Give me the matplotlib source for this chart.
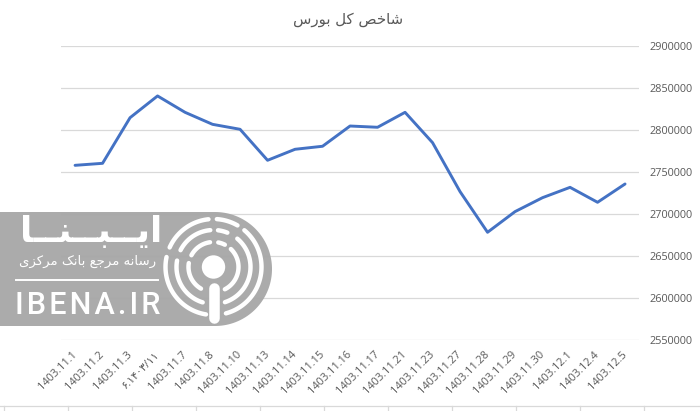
import numpy as np
import matplotlib
matplotlib.use('Agg')
import matplotlib.pyplot as plt

# Data
FECHAS = ['1403.11.1', '1403.11.2', '1403.11.3', '۶.۱۴۰۳/۱۱', '1403.11.7', '1403.11.8', '1403.11.10',
          '1403.11.13', '1403.11.14', '1403.11.15', '1403.11.16', '1403.11.17', '1403.11.21',
          '1403.11.23', '1403.11.27', '1403.11.28', '1403.11.29', '1403.11.30', '1403.12.1',
          '1403.12.4', '1403.12.5']
INDICE = [2758300, 2760700, 2815000, 2840900, 2821400, 2807100, 2801200, 2764300, 2777400, 2781000,
          2805100, 2803600, 2821400, 2785300, 2727000, 2678600, 2703200, 2719800, 2732100, 2714300,
          2736100]
Y_TICKS = [2550000, 2600000, 2650000, 2700000, 2750000, 2800000, 2850000, 2900000]

# Persian strings, already in contextual forms (matplotlib does not shape Arabic script)
TITULO = '\uFEB7\uFE8E\uFEA7\uFEBA \uFB90\uFEDE \uFE91\uFEEE\uFEAD\uFEB1'
LOGO_NOMBRE = '\uFE8D\uFBFE\u0640\u0640\uFE92\u0640\u0640\uFEE8\u0640\u0640\uFE8E'
LOGO_LEMA = '\uFEAD\uFEB3\uFE8E\uFEE7\uFEEA \uFEE3\uFEAE\uFE9F\uFECA \uFE91\uFE8E\uFEE7\uFB8F \uFEE3\uFEAE\uFB90\uFEB0\uFBFC'
LOGO_WEB = 'I\u200AB\u200AE\u200AN\u200AA\u200A.\u200AI\u200AR'

GRIS_TEXTO = '#595959'
GRIS_LINEA = '#d9d9d9'
GRIS_LOGO = '#a8a8a8'
ANCHO, ALTO = 700, 411


def rtl(texto):
    return texto[::-1]


def arco(ax, cx, cy, r, a1, a2, lw):
    t = np.radians(np.linspace(a1, a2, 60))
    ax.plot(cx + r * np.cos(t), cy - r * np.sin(t), color='white', lw=lw, solid_capstyle='round')


plt.rcParams['font.family'] = ['Open Sans', 'DejaVu Sans']

fig = plt.figure(figsize=(7, 4.11), dpi=100)
ax = fig.add_axes([61.3 / ANCHO, 1 - 340.3 / ALTO, 577.5 / ANCHO, 294 / ALTO])
x = np.arange(len(FECHAS))
ax.plot(x, INDICE, color='#4472c4', lw=2.1, solid_joinstyle='round', solid_capstyle='round', zorder=3)
ax.set_xlim(-0.5, 20.5)
ax.set_ylim(2550000, 2900000)
ax.set_yticks(Y_TICKS)
ax.set_yticklabels([str(v) for v in Y_TICKS])
ax.yaxis.tick_right()
ax.grid(True, axis='y', color=GRIS_LINEA, lw=0.9)
ax.set_xticks(x)
ax.set_xticklabels(FECHAS, rotation=45, ha='right', va='center', rotation_mode='anchor')
ax.tick_params(axis='x', length=0, pad=9, labelsize=7.9, labelcolor=GRIS_TEXTO)
ax.tick_params(axis='y', length=0, pad=7.5, labelsize=7.8, labelcolor=GRIS_TEXTO)
for s in ax.spines.values():
    s.set_visible(False)

# Overlay in pixel coordinates: title, bottom strip and logo
capa = fig.add_axes([0, 0, 1, 1], facecolor='none')
capa.set_xlim(0, ANCHO)
capa.set_ylim(ALTO, 0)
capa.axis('off')

capa.text(348, 19.5, rtl(TITULO), ha='center', va='center', fontsize=10.8, color=GRIS_TEXTO,
          family='DejaVu Sans')

capa.plot([0, ANCHO], [406.3, 406.3], color=GRIS_LINEA, lw=0.9)
for xt in np.arange(4.3, ANCHO, 64):
    capa.plot([xt, xt], [406.3, ALTO], color=GRIS_LINEA, lw=0.9)

# Logo banner
t = np.radians(np.linspace(90, -90, 80))
bx = np.concatenate([[0], 215 + 57 * np.cos(t), [0]])
by = np.concatenate([[212], 269 - 57 * np.sin(t), [326]])
capa.fill(bx, by, color=GRIS_LOGO, lw=0, alpha=0.97)

cx, cy = 213.5, 267
capa.add_patch(plt.Circle((cx, cy), 11.7, color='white', lw=0))
capa.plot([cx, cx], [288, 317.5], color='white', lw=7.6, solid_capstyle='round')
for r, tramos, lw in [
    (48, [(86, 60), (50, -75), (96, 156), (168, 261)], 3.2),
    (37, [(83, 68), (50, -72), (95, 153), (170, 253)], 3.2),
    (25, [(79, 63), (46, -63), (98, 152), (171, 240)], 3.2),
]:
    for a1, a2 in tramos:
        arco(capa, cx, cy, r, a1, a2, lw)

capa.text(91, 232, rtl(LOGO_NOMBRE), ha='center', va='center', fontsize=26, color='white',
          family='DejaVu Sans', fontweight='bold')
capa.text(88, 261.5, rtl(LOGO_LEMA), ha='center', va='center', fontsize=9.5, color='white',
          family='DejaVu Sans')
capa.plot([16, 158], [279.7, 279.7], color='white', lw=1.4)
capa.text(87.5, 305, LOGO_WEB, ha='center', va='center', fontsize=22, color='white', fontweight='medium',
          family=['Roboto', 'DejaVu Sans'])

fig.savefig('out.png', dpi=100)
